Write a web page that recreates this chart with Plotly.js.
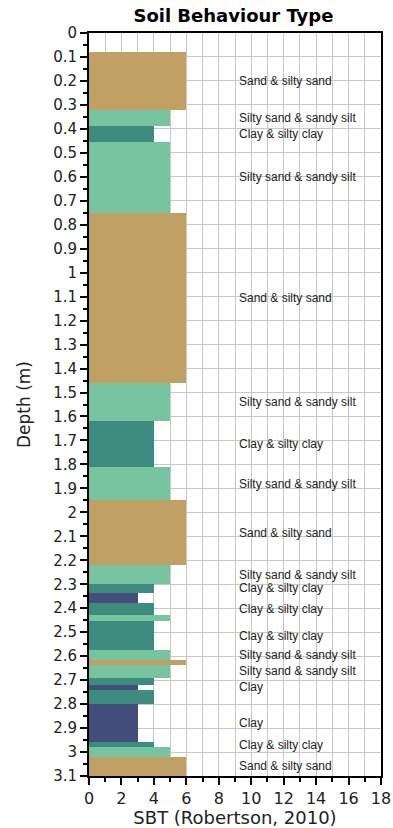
<!DOCTYPE html>
<html>
<head>
<meta charset="utf-8">
<script src="https://cdn.plot.ly/plotly-3.0.1.min.js"></script>
<style>html,body{margin:0;padding:0;background:#fff;}#chart{width:393px;height:828px;}</style>
</head>
<body>
<div id="chart"></div>
<script>
// Layer data (depth in m, SBT zone value)
const layerTop    = [0.08, 0.32, 0.39, 0.455, 0.75, 1.46, 1.62, 1.81, 1.95, 2.22, 2.30, 2.335, 2.38, 2.43, 2.455, 2.575, 2.615, 2.635, 2.69, 2.72, 2.74, 2.80, 2.96, 2.98, 3.02];
const layerBottom = [0.32, 0.39, 0.455, 0.75, 1.46, 1.62, 1.81, 1.95, 2.22, 2.30, 2.335, 2.38, 2.43, 2.455, 2.575, 2.615, 2.635, 2.69, 2.72, 2.74, 2.80, 2.96, 2.98, 3.02, 3.10];
const sbtZone     = [6, 5, 4, 5, 6, 5, 4, 5, 6, 5, 4, 3, 4, 5, 4, 5, 6, 5, 4, 3, 4, 3, 4, 5, 6];
const showLabel   = [1, 1, 1, 1, 1, 1, 1, 1, 1, 1, 1, 0, 1, 0, 1, 1, 0, 1, 0, 1, 0, 1, 1, 0, 1];

// Zone names and colours
const zoneValues = [3, 4, 5, 6];
const zoneNames  = ['Clay', 'Clay & silty clay', 'Silty sand & sandy silt', 'Sand & silty sand'];
const zoneColors = ['#444E7A', '#3E8C80', '#78C4A0', '#C0A064'];

const xTickVals = [0, 2, 4, 6, 8, 10, 12, 14, 16, 18];

const mids = layerTop.map((t, i) => (t + layerBottom[i]) / 2);
const thick = layerTop.map((t, i) => layerBottom[i] - t);
const colors = sbtZone.map(z => zoneColors[zoneValues.indexOf(z)]);

const trace = {
  type: 'bar',
  orientation: 'h',
  y: mids,
  x: sbtZone,
  width: thick,
  base: 0,
  marker: {color: colors, line: {width: 0}},
  hoverinfo: 'skip',
  showlegend: false
};

const annotations = [];
mids.forEach((m, i) => {
  if (showLabel[i]) {
    annotations.push({
      x: 9.1, y: m, xref: 'x', yref: 'y',
      text: zoneNames[zoneValues.indexOf(sbtZone[i])],
      showarrow: false, xanchor: 'left', yanchor: 'middle',
      font: {family: 'Liberation Sans, Arial, sans-serif', size: 12, color: '#222'}
    });
  }
});

const layout = {
  width: 393, height: 828,
  margin: {l: 89, r: 12, t: 33, b: 52},
  paper_bgcolor: '#fff', plot_bgcolor: '#fff',
  title: {text: '<b>Soil Behaviour Type</b>', font: {family: 'DejaVu Sans', size: 18, color: '#000'},
          x: 0.594, xref: 'container', xanchor: 'center', y: 0.981, yref: 'container', yanchor: 'middle'},
  xaxis: {
    range: [0, 18], tickvals: xTickVals, ticks: 'outside', ticklen: 7, tickwidth: 2, tickcolor: '#000',
    showgrid: true, gridcolor: '#c8c8c8', gridwidth: 1, zeroline: false,
    showline: true, mirror: true, linecolor: '#000', linewidth: 2,
    tickfont: {family: 'DejaVu Sans', size: 16, color: '#222'},
    minor: {dtick: 1, ticks: 'outside', ticklen: 4, tickwidth: 2, tickcolor: '#000', showgrid: true, gridcolor: '#c8c8c8', gridwidth: 1},
    title: {text: 'SBT (Robertson, 2010)', font: {family: 'DejaVu Sans', size: 18, color: '#222'}, standoff: 3},
    fixedrange: true
  },
  yaxis: {
    range: [3.1, 0], dtick: 0.1, tick0: 0, ticks: 'outside', ticklen: 7, tickwidth: 2, tickcolor: '#000',
    showgrid: true, gridcolor: '#c8c8c8', gridwidth: 1, zeroline: false,
    showline: true, mirror: true, linecolor: '#000', linewidth: 2,
    tickfont: {family: 'DejaVu Sans', size: 15, color: '#222'},
    minor: {dtick: 0.05, ticks: 'outside', ticklen: 4, tickwidth: 2, tickcolor: '#000', showgrid: false},
    title: {text: 'Depth (m)', font: {family: 'DejaVu Sans', size: 17, color: '#222'}, standoff: 18},
    fixedrange: true
  },
  bargap: 0,
  annotations: annotations,
  showlegend: false
};

Plotly.newPlot('chart', [trace], layout, {displayModeBar: false, staticPlot: true});
</script>
</body>
</html>
